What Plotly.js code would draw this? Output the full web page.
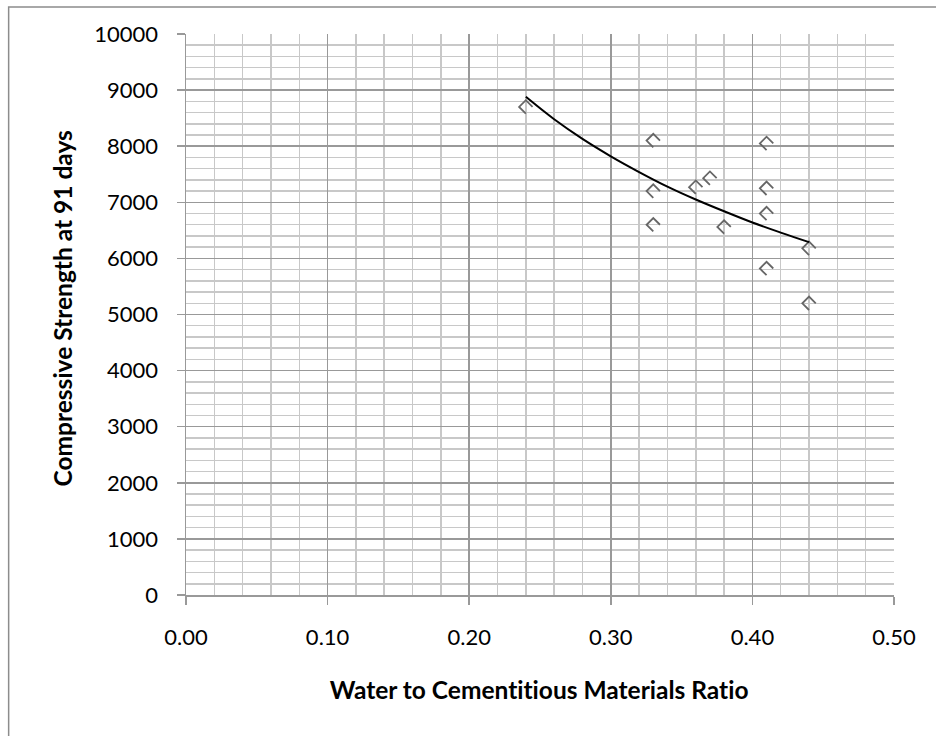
<!DOCTYPE html>
<html>
<head>
<meta charset="utf-8">
<script src="https://cdn.plot.ly/plotly-3.0.1.min.js"></script>
<style>
html,body{margin:0;padding:0;background:#ffffff;}
#chart{width:936px;height:736px;}
#chart text{font-variant-ligatures:none;font-feature-settings:"liga" 0, "clig" 0;}
</style>
</head>
<body>
<div id="chart"></div>
<script>
// Measured data points (w/cm ratio vs 91-day compressive strength)
const wcRatio    = [0.24, 0.33, 0.33, 0.33, 0.36, 0.37, 0.38, 0.41, 0.41, 0.41, 0.41, 0.44, 0.44];
const strength91 = [8700, 8100, 7200, 6600, 7270, 7430, 6560, 8050, 7250, 6800, 5820, 6180, 5200];

// Trend line
const trendX = [0.24, 0.26, 0.28, 0.30, 0.32, 0.34, 0.36, 0.38, 0.40, 0.42, 0.44];
const trendY = [8880, 8480, 8130, 7820, 7540, 7280, 7050, 6840, 6640, 6460, 6290];

// Tick labels
const xTickVals = [0, 0.1, 0.2, 0.3, 0.4, 0.5];
const xTickText = ['0.00', '0.10', '0.20', '0.30', '0.40', '0.50'];
const yTickVals = [0, 1000, 2000, 3000, 4000, 5000, 6000, 7000, 8000, 9000, 10000];
const yTickText = ['0', '1000', '2000', '3000', '4000', '5000', '6000', '7000', '8000', '9000', '10000'];

const xTitle = 'Water to Cementitious Materials Ratio';
const yTitle = 'Compressive Strength at 91 days';

const FONT = 'Lato, "Open Sans", sans-serif';
const MAJOR = '#999999';
const MINOR = '#c8c8c8';

const traces = [
  {
    x: wcRatio, y: strength91,
    type: 'scatter', mode: 'markers',
    marker: {symbol: 'square-open', size: 9.5, angle: 45,
             color: '#666666', line: {color: '#666666', width: 1.8}},
    hoverinfo: 'x+y', showlegend: false
  },
  {
    x: trendX, y: trendY,
    type: 'scatter', mode: 'lines',
    line: {color: '#000000', width: 2, shape: 'spline', smoothing: 1},
    hoverinfo: 'skip', showlegend: false
  }
];

const layout = {
  width: 936, height: 736,
  margin: {l: 185.5, r: 42, t: 34, b: 141, pad: 0},
  paper_bgcolor: '#ffffff', plot_bgcolor: '#ffffff',
  font: {family: FONT, size: 22, color: '#000000'},
  xaxis: {
    range: [0, 0.5], tickmode: 'array', tickvals: xTickVals, ticktext: xTickText,
    showgrid: true, gridcolor: MAJOR, gridwidth: 1.5,
    minor: {dtick: 0.02, tick0: 0, showgrid: true, gridcolor: MINOR, gridwidth: 1.5, ticks: ''},
    showline: true, linecolor: MAJOR, linewidth: 1.5,
    ticks: 'outside', ticklen: 8, tickwidth: 1.5, tickcolor: MAJOR,
    ticklabelstandoff: 14,
    zeroline: false, fixedrange: true,
    tickfont: {family: FONT, size: 22, color: '#000000'}
  },
  yaxis: {
    range: [0, 10000], tickmode: 'array', tickvals: yTickVals, ticktext: yTickText,
    showgrid: true, gridcolor: MAJOR, gridwidth: 1.5,
    minor: {dtick: 200, tick0: 0, showgrid: true, gridcolor: MINOR, gridwidth: 1.5, ticks: ''},
    showline: true, linecolor: MAJOR, linewidth: 1.5,
    ticks: 'outside', ticklen: 8, tickwidth: 1.5, tickcolor: MAJOR,
    ticklabelstandoff: 14,
    zeroline: false, fixedrange: true,
    tickfont: {family: FONT, size: 22, color: '#000000'}
  },
  annotations: [
    {text: '<b>' + xTitle + '</b>', xref: 'paper', yref: 'paper',
     x: 0.499, y: -0.1693, xanchor: 'center', yanchor: 'middle', showarrow: false,
     font: {family: FONT, size: 24.5, color: '#000000'}},
    {text: '<b>' + yTitle + '</b>', xref: 'paper', yref: 'paper',
     x: -0.1743, y: 0.51, xanchor: 'center', yanchor: 'middle', showarrow: false,
     textangle: -90,
     font: {family: FONT, size: 24.5, color: '#000000'}}
  ],
  shapes: [
    {type: 'rect', xref: 'paper', yref: 'paper',
     x0: -0.2505, x1: 1.3, y0: -0.4, y1: 1.0481,
     line: {color: '#8c8c8c', width: 1.5}, fillcolor: 'rgba(0,0,0,0)', layer: 'below'}
  ]
};

Plotly.newPlot('chart', traces, layout, {displayModeBar: false, staticPlot: true}).then(function () {
  // Turn the square markers into open brackets, like the original
  const tr = document.querySelectorAll('.scatterlayer .trace')[0];
  if (tr) {
    tr.querySelectorAll('path.point').forEach(function (p) {
      const d = p.getAttribute('d') || '';
      p.setAttribute('d', d.replace(/Z$/, ''));
    });
  }
});
</script>
</body>
</html>
